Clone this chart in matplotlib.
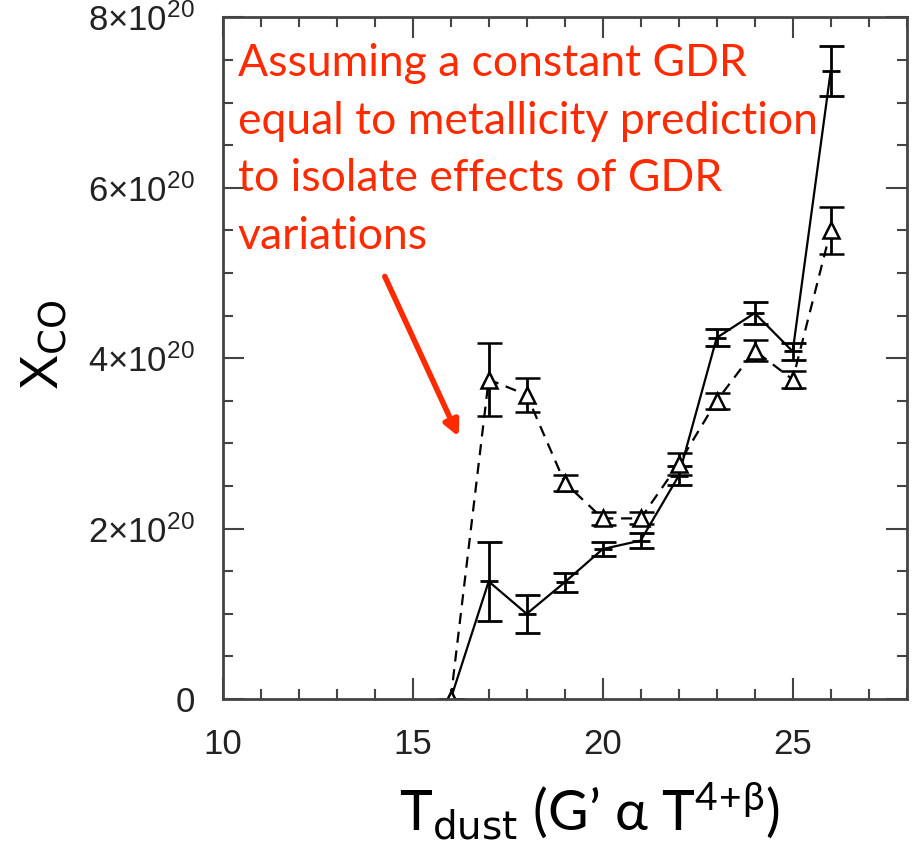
import numpy as np
import matplotlib
matplotlib.use("Agg")
import matplotlib.pyplot as plt
from matplotlib.ticker import MultipleLocator, FuncFormatter

plt.rcParams['mathtext.fontset'] = 'custom'
plt.rcParams['mathtext.rm'] = 'Liberation Sans'
plt.rcParams['mathtext.default'] = 'regular'

# T_dust bins
t_dust = [16, 17, 18, 19, 20, 21, 22, 23, 24, 25, 26]

# X_CO (units of 1e20), solid line
xco_solid = [0.0, 1.38, 1.00, 1.37, 1.76, 1.86, 2.62, 4.24, 4.53, 4.08, 7.37]
err_solid = [0.0, 0.46, 0.22, 0.11, 0.085, 0.09, 0.11, 0.10, 0.125, 0.10, 0.29]

# X_CO (units of 1e20), constant GDR (dashed, triangles)
xco_const = [0.0, 3.75, 3.57, 2.54, 2.12, 2.12, 2.76, 3.50, 4.09, 3.75, 5.50]
err_const = [0.0, 0.43, 0.20, 0.095, 0.075, 0.07, 0.13, 0.095, 0.12, 0.095, 0.275]

note = ("Assuming a constant GDR\n"
        "equal to metallicity prediction\n"
        "to isolate effects of GDR\n"
        "variations")
red = '#ff2a00'
spine_col = '#444444'

fig = plt.figure(figsize=(9.13, 8.48), dpi=100)
ax = fig.add_axes([0.2439, 0.1757, 0.9931 - 0.2439, 0.9794 - 0.1757])

ax.errorbar(t_dust, xco_solid, yerr=err_solid, color='black', lw=1.6,
            marker='_', ms=13, mew=2, elinewidth=2, capsize=9, capthick=2)
ax.errorbar(t_dust, xco_const, yerr=err_const, color='black', lw=1.6,
            ls=(0, (5, 3.5)), marker='^', ms=12, mfc='white', mec='black',
            mew=1.8, elinewidth=2, capsize=9, capthick=2)

ax.set_xlim(10, 28)
ax.set_ylim(0, 8)
ax.xaxis.set_major_locator(MultipleLocator(5))
ax.xaxis.set_minor_locator(MultipleLocator(1))
ax.yaxis.set_major_locator(MultipleLocator(2))
ax.yaxis.set_minor_locator(MultipleLocator(0.5))


def fmt_y(v, pos):
    if v == 0:
        return '0'
    return '%d×10$^{20}$' % v


ax.yaxis.set_major_formatter(FuncFormatter(fmt_y))
ax.tick_params(which='both', direction='in', top=True, right=True,
               color=spine_col, width=1.5)
ax.tick_params(which='major', length=15)
ax.tick_params(which='minor', length=7.5)
ax.tick_params(axis='x', which='major', pad=21, labelsize=25, labelcolor='#222222')
ax.tick_params(axis='y', which='major', pad=20, labelsize=25, labelcolor='#222222')
for lab in ax.get_xticklabels() + ax.get_yticklabels():
    lab.set_family('Liberation Sans')
for s in ax.spines.values():
    s.set_color(spine_col)
    s.set_linewidth(2)

ax.set_xlabel(r"T$_{\mathsf{dust}}$ (G’ $\alpha$ T$^{4\!+\!\beta}$)", fontsize=40,
              family='Lato')
ax.xaxis.set_label_coords(0.5365, -0.12)
ax.set_ylabel(r"X$_{\mathsf{CO}}$", fontsize=38, family='Liberation Sans')
ax.yaxis.set_label_coords(-0.225, 0.52)

ax.text(0.022, 0.962, note, transform=ax.transAxes, color=red, fontsize=32,
        family='Lato', va='top', ha='left', linespacing=1.5)
ax.annotate('', xy=(0.345, 0.385), xytext=(0.237, 0.62),
            xycoords='axes fraction', textcoords='axes fraction',
            arrowprops=dict(arrowstyle='-|>,head_length=0.9,head_width=0.45',
                            color=red, lw=4, shrinkA=0, shrinkB=0))

fig.savefig('out.png', dpi=100)
